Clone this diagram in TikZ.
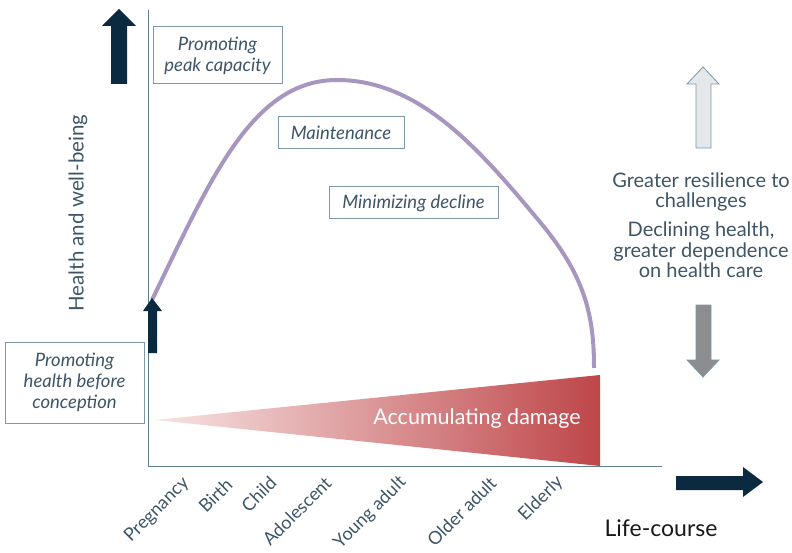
\documentclass[tikz,border=0pt]{standalone}
\usepackage{fontspec}
\setmainfont{Lato}
\usepackage{xcolor}
\usepackage{tikz}
\definecolor{slateText}{RGB}{61, 85, 102}
\definecolor{axisBlue}{RGB}{95, 127, 145}
\definecolor{boxBorder}{RGB}{127, 151, 166}
\definecolor{navyArrow}{RGB}{12, 42, 63}
\definecolor{curvePurple}{RGB}{167, 150, 191}
\definecolor{damageLight}{RGB}{248, 228, 228}
\definecolor{damageRed}{RGB}{190, 70, 73}
\definecolor{paleArrow}{RGB}{229, 232, 234}
\definecolor{greyArrow}{RGB}{139, 141, 143}
\usetikzlibrary{positioning}

\tikzset{
    phasebox/.style={
        rectangle,
        draw=boxBorder,
        line width=1pt,
        fill=white,
        text=slateText,
        align=center,
        inner sep=0pt,
        font=\fontsize{18.5}{21}\selectfont\itshape
    },
    stagelabel/.style={
        rotate=45,
        anchor=east,
        text=slateText,
        inner sep=1pt,
        font=\fontsize{18}{20}\selectfont
    },
    sidetext/.style={
        text=slateText,
        align=center,
        inner sep=0pt,
        font=\fontsize{20}{20.5}\selectfont
    }
}

\begin{document}
\begin{tikzpicture}[x=1pt, y=-1pt]
    \useasboundingbox (0,0) rectangle (792,553);

    % axes
    \draw[axisBlue, line width=1pt] (148,10) -- (148,466) -- (662,466);

    % accumulating damage wedge
    \shade[left color=damageLight, right color=damageRed]
        (155,420) -- (600,375) -- (600,466) -- cycle;
    \node[text=white, font=\fontsize{21.5}{24}\selectfont] (damage) at (477,419) {Accumulating damage};

    % health curve
    \draw[curvePurple, line width=4pt]
        (152,300) .. controls (210,180) and (252,80) .. (337,80)
        .. controls (420,80) and (480,150) .. (540,222)
        .. controls (585,276) and (594,315) .. (594,368);

    % navy arrows
    \fill[navyArrow] (119,9) -- (136,26) -- (127,26) -- (127,84) -- (111,84) -- (111,26) -- (102,26) -- cycle;
    \fill[navyArrow] (152,298) -- (162,311) -- (157,311) -- (157,353) -- (148,353) -- (148,311) -- (143,311) -- cycle;
    \fill[navyArrow] (763,482) -- (743,467) -- (743,476) -- (676,476) -- (676,490) -- (743,490) -- (743,497) -- cycle;

    % side arrows
    \filldraw[fill=paleArrow, draw=boxBorder, line width=0.8pt]
        (703,67) -- (719,84) -- (711,84) -- (711,148) -- (696,148) -- (696,84) -- (687,84) -- cycle;
    \filldraw[fill=greyArrow, draw=boxBorder, line width=0.8pt]
        (703,377) -- (719,360) -- (711,360) -- (711,305) -- (696,305) -- (696,360) -- (687,360) -- cycle;

    % boxes
    \node[phasebox, minimum width=129pt, minimum height=57pt] (peak) at (217.5,55.5) {Promoting\\peak capacity};
    \node[phasebox, minimum width=126pt, minimum height=32pt] (maintain) at (341,133) {Maintenance};
    \node[phasebox, minimum width=169pt, minimum height=32pt] (decline) at (413.5,203) {Minimizing decline};
    \node[phasebox, minimum width=139pt, minimum height=81pt] (preconception) at (74.5,382.5) {Promoting\\health before\\conception};

    % axis titles
    \node[rotate=90, text=slateText, font=\fontsize{20.5}{23}\selectfont] (health) at (78,213) {Health and well-being};
    \node[text=black!90, font=\fontsize{23}{26}\selectfont] (lifecourse) at (661,528) {Life-course};

    % side texts
    \node[sidetext] (resilience) at (701,192) {Greater resilience to\\challenges};
    \node[sidetext, below=10pt of resilience] (dependence) {Declining health,\\greater dependence\\on health care};

    % life stages
    \node[stagelabel] (pregnancy) at (187,480) {Pregnancy};
    \node[stagelabel] (birth) at (230,481) {Birth};
    \node[stagelabel] (child) at (274,479) {Child};
    \node[stagelabel] (adolescent) at (329,479) {Adolescent};
    \node[stagelabel] (young) at (404,479) {Young adult};
    \node[stagelabel] (older) at (494,479) {Older adult};
    \node[stagelabel] (elderly) at (561,479) {Elderly};
\end{tikzpicture}
\end{document}
